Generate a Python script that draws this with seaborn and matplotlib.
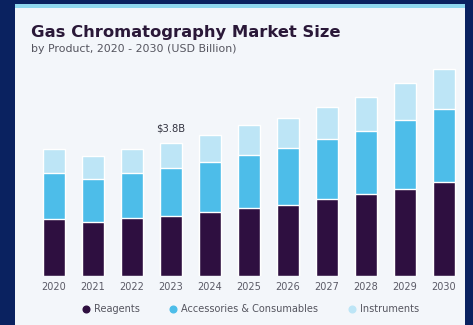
import matplotlib
matplotlib.use("Agg")
import matplotlib.pyplot as plt
from matplotlib.patches import Rectangle
from matplotlib.lines import Line2D
import seaborn as sns
import pandas as pd
import numpy as np

years = ["2020", "2021", "2022", "2023", "2024", "2025", "2026", "2027", "2028", "2029", "2030"]
reagents = [1.63, 1.54, 1.66, 1.71, 1.83, 1.94, 2.03, 2.20, 2.34, 2.49, 2.69]
accessories = [1.31, 1.23, 1.29, 1.37, 1.43, 1.51, 1.63, 1.71, 1.80, 1.97, 2.09]
instruments = [0.69, 0.66, 0.69, 0.72, 0.77, 0.86, 0.86, 0.91, 0.97, 1.06, 1.14]
series_names = ["Reagents", "Accessories & Consumables", "Instruments"]
series_colors = ["#2e0f40", "#4dbde9", "#bde5f6"]
callout_year = "2023"
callout_text = "$3.8B"

sns.set_theme(style="white")
plt.rcParams["font.family"] = ["DejaVu Sans"]

W, H = 473, 325
fig = plt.figure(figsize=(W / 100, H / 100), dpi=100)
fig.patch.set_facecolor("#0a2260")

# light panel and cyan top rule, kept behind the axes
fig.patches.append(Rectangle((15 / W, 0), 450 / W, 317 / H, transform=fig.transFigure,
                             facecolor="#f3f6fa", edgecolor="none", zorder=-2))
fig.patches.append(Rectangle((15 / W, 317 / H), 450 / W, 4 / H, transform=fig.transFigure,
                             facecolor="#8fd8ee", edgecolor="none", zorder=-2))

df = pd.DataFrame({"year": years, "reag": reagents, "acc": accessories, "inst": instruments})
df["lvl1"] = df["reag"]
df["lvl2"] = df["reag"] + df["acc"]
df["lvl3"] = df["lvl2"] + df["inst"]

ax = fig.add_axes([34.5 / W, 49 / H, 429 / W, 227.5 / H])
ax.set_facecolor("none")

for col, c in zip(["lvl3", "lvl2", "lvl1"], series_colors[::-1]):
    sns.barplot(data=df, x="year", y=col, color=c, width=0.56, saturation=1,
                order=years, ax=ax, errorbar=None)

ax.set_xlim(-0.5, 10.5)
ax.set_ylim(0, 6.5)
ax.set_xlabel("")
ax.set_ylabel("")
ax.set_yticks([])
for s in ax.spines.values():
    s.set_visible(False)
ax.tick_params(axis="x", length=0, pad=4, labelsize=7, labelcolor="#5a5a66")

i = years.index(callout_year)
ax.text(i, df["lvl3"][i] + 0.27, callout_text, ha="center", va="bottom",
        fontsize=7.2, color="#333340")

fig.text(31 / W, 1 - 32 / H, "Gas Chromatography Market Size", fontsize=11.8,
         fontweight="heavy", color="#2a1838", va="center", ha="left")
fig.text(31 / W, 1 - 49 / H, "by Product, 2020 - 2030 (USD Billion)", fontsize=7.9,
         color="#55555f", va="center", ha="left")

handles = [Line2D([], [], marker="o", linestyle="none", markersize=4.8,
                  markerfacecolor=c, markeredgecolor=c) for c in series_colors]
fig.legend(handles, series_names, loc="center", bbox_to_anchor=(250 / W, 1 - 309 / H),
           ncol=3, frameon=False, fontsize=7, labelcolor="#55555f",
           handletextpad=0.3, columnspacing=3.0, handlelength=1.0)

fig.savefig("out.png", dpi=100, facecolor=fig.get_facecolor())
